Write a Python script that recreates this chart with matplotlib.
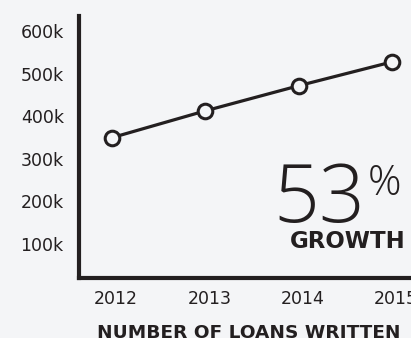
import matplotlib

matplotlib.use("Agg")
import matplotlib.pyplot as plt
import matplotlib.transforms as mtransforms

years = [2012, 2013, 2014, 2015]
loans = [350000, 413000, 472000, 528000]
ytick_vals = [100000, 200000, 300000, 400000, 500000, 600000]
ytick_labels = ["100k", "200k", "300k", "400k", "500k", "600k"]

INK = "#231f20"
BG = "#f4f5f7"
W, H = 411, 338

plt.rcParams["font.family"] = ["DejaVu Sans"]

fig = plt.figure(figsize=(W / 100, H / 100), dpi=100, facecolor=BG)
# axes runs off the right edge on purpose, like the reference crop
ax = fig.add_axes([79 / W, (H - 278) / H, (411 - 79) / W, (278 - 16) / H])
ax.set_facecolor(BG)

ax.plot(years, loans, color=INK, linewidth=2.3, marker="o", markersize=10.5,
        markerfacecolor=BG, markeredgecolor=INK, markeredgewidth=2.2, clip_on=False, zorder=3)

ax.set_xlim(2011.646, 2015.205)
ax.set_ylim(20000, 636000)
ax.set_yticks(ytick_vals)
ax.set_yticklabels(ytick_labels)
ax.set_xticks(years)
ax.set_xticklabels([str(y) for y in years])
ax.tick_params(length=0, labelsize=12.5, colors=INK)
ax.tick_params(axis="y", pad=11)
ax.tick_params(axis="x", pad=9)
shift = mtransforms.ScaledTranslation(4 / 100, 0, fig.dpi_scale_trans)
for lab in ax.get_xticklabels():
    lab.set_transform(lab.get_transform() + shift)

for s in ("top", "right"):
    ax.spines[s].set_visible(False)
for s in ("left", "bottom"):
    ax.spines[s].set_linewidth(3.0)
    ax.spines[s].set_color(INK)
    ax.spines[s].set_capstyle("projecting")

fig.text(273 / W, 1 - 222 / H, "53", fontsize=58, fontweight="light", color=INK,
         family=["Open Sans", "DejaVu Sans"], ha="left", va="baseline")
fig.text(368 / W, 1 - 195 / H, "%", fontsize=30, fontweight="light", color=INK,
         family=["Open Sans", "DejaVu Sans"], ha="left", va="baseline")
fig.text(406 / W, 1 - 248 / H, "GROWTH", fontsize=16.5, fontweight="bold", color=INK,
         ha="right", va="baseline")
fig.text(97 / W, 1 - 338 / H, "NUMBER OF LOANS WRITTEN", fontsize=13.3, fontweight="bold",
         color=INK, ha="left", va="baseline")

fig.savefig("out.png", dpi=100, facecolor=BG)
